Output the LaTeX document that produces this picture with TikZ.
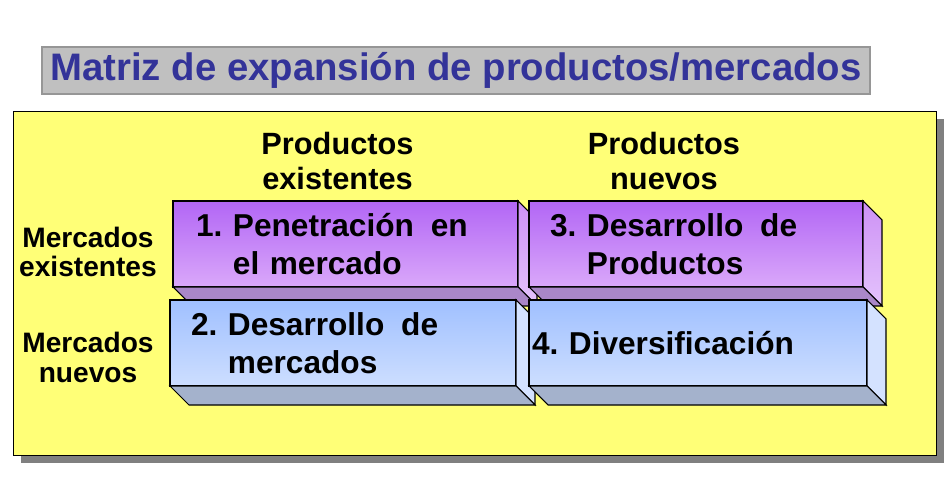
\documentclass[tikz,border=0pt]{standalone}
\usepackage{fontspec}
\setmainfont{Liberation Sans}
\usetikzlibrary{positioning, calc, shadings, shadows}
\definecolor{panelYellow}{RGB}{255,255,119}
\definecolor{shadowGray}{RGB}{128,128,128}
\definecolor{titleGray}{RGB}{192,192,192}
\definecolor{titleLine}{RGB}{150,150,150}
\definecolor{titleBlue}{RGB}{51,51,153}
\definecolor{purpleTop}{RGB}{178,102,245}
\definecolor{purpleBot}{RGB}{218,168,250}
\definecolor{purpleSideTop}{RGB}{205,145,245}
\definecolor{purpleSideBot}{RGB}{228,195,252}
\definecolor{purpleFloor}{RGB}{170,135,200}
\definecolor{blueTop}{RGB}{160,192,255}
\definecolor{blueBot}{RGB}{205,222,255}
\definecolor{blueSide}{RGB}{212,226,255}
\definecolor{blueFloor}{RGB}{164,178,204}
\tikzset{
  slab/.style = {
    draw,
    anchor=north west,
    align=left,
    outer sep=0pt,
    inner ysep=0pt,
    minimum height=1.72cm,
    line width=0.6pt,
    font=\fontsize{18}{21.6}\selectfont\bfseries,
  },
  purpleSlab/.style = {
    slab,
    top color=purpleTop,
    bottom color=purpleBot,
  },
  blueSlab/.style = {
    slab,
    top color=blueTop,
    bottom color=blueBot,
  },
  heading/.style = {
    align=center,
    font=\fontsize{17.5}{20}\selectfont\bfseries,
  },
  rowLabel/.style = {
    align=center,
    font=\fontsize{16}{17}\selectfont\bfseries,
  },
}
\begin{document}
\begin{tikzpicture}[
  title/.style = {
    draw=titleLine,
    fill=titleGray,
    text=titleBlue,
    line width=0.6pt,
    minimum width=16.56cm,
    minimum height=0.94cm,
    inner sep=0pt,
    font=\fontsize{21.8}{26}\selectfont\bfseries,
  },
  panel/.style = {
    draw,
    fill=panelYellow,
    line width=0.8pt,
    anchor=north west,
    minimum width=18.46cm,
    minimum height=6.88cm,
    drop shadow={shadow xshift=0.14cm, shadow yshift=-0.14cm, fill=shadowGray, opacity=1},
  },
  purpleSide/.style = {
    draw,
    line width=0.6pt,
    top color=purpleSideTop,
    bottom color=purpleSideBot,
  },
  purpleBottom/.style = {
    draw,
    line width=0.6pt,
    fill=purpleFloor,
  },
  blueSideFace/.style = {
    draw,
    line width=0.6pt,
    fill=blueSide,
  },
  blueBottom/.style = {
    draw,
    line width=0.6pt,
    fill=blueFloor,
  },
]
\useasboundingbox (0,0) rectangle (18.92,-10);

\node (Title) [title] at (9.12,-1.41) {Matriz de expansión de productos/mercados};

\node (Panel) [panel] at (0.26,-2.22) {};

\node (ColOld) [heading] at (6.75,-3.22) {Productos\\existentes};
\node (ColNew) [heading] at (13.28,-3.22) {Productos\\nuevos};
\node (RowOld) [rowLabel] at (1.76,-5.04) {Mercados\\existentes};
\node (RowNew) [rowLabel] at (1.76,-7.15) {Mercados\\nuevos};

% existing markets
\node (Pen) [purpleSlab, inner xsep=0.46cm, text width=5.98cm] at (3.46,-4.02)
  {1.~Penetración~\hspace{.2em}en\\\phantom{1.}~el mercado};
\draw[purpleSide] (Pen.north east) -- ++(0.38,-0.38) -- ($(Pen.south east)+(0.38,-0.38)$) -- (Pen.south east) -- cycle;
\draw[purpleBottom] (Pen.south west) -- (Pen.south east) -- ++(0.38,-0.38) -- ($(Pen.south west)+(0.38,-0.38)$) -- cycle;

\node (DesProd) [purpleSlab, inner xsep=0.42cm, text width=5.84cm] at (10.58,-4.02)
  {3.~Desarrollo~\hspace{.2em}de\\\phantom{3.}~Productos};
\draw[purpleSide] (DesProd.north east) -- ++(0.38,-0.38) -- ($(DesProd.south east)+(0.38,-0.38)$) -- (DesProd.south east) -- cycle;
\draw[purpleBottom] (DesProd.south west) -- (DesProd.south east) -- ++(0.38,-0.38) -- ($(DesProd.south west)+(0.38,-0.38)$) -- cycle;

% new markets
\node (DesMer) [blueSlab, inner xsep=0.42cm, text width=6.08cm] at (3.40,-6.00)
  {2.~Desarrollo~\hspace{.2em}de\\\phantom{2.}~mercados};
\draw[blueSideFace] (DesMer.north east) -- ++(0.38,-0.38) -- ($(DesMer.south east)+(0.38,-0.38)$) -- (DesMer.south east) -- cycle;
\draw[blueBottom] (DesMer.south west) -- (DesMer.south east) -- ++(0.38,-0.38) -- ($(DesMer.south west)+(0.38,-0.38)$) -- cycle;

\node (Div) [blueSlab, inner xsep=0.06cm, text width=6.64cm] at (10.58,-6.00)
  {4.~Diversificación};
\draw[blueSideFace] (Div.north east) -- ++(0.38,-0.38) -- ($(Div.south east)+(0.38,-0.38)$) -- (Div.south east) -- cycle;
\draw[blueBottom] (Div.south west) -- (Div.south east) -- ++(0.38,-0.38) -- ($(Div.south west)+(0.38,-0.38)$) -- cycle;

\end{tikzpicture}
\end{document}
